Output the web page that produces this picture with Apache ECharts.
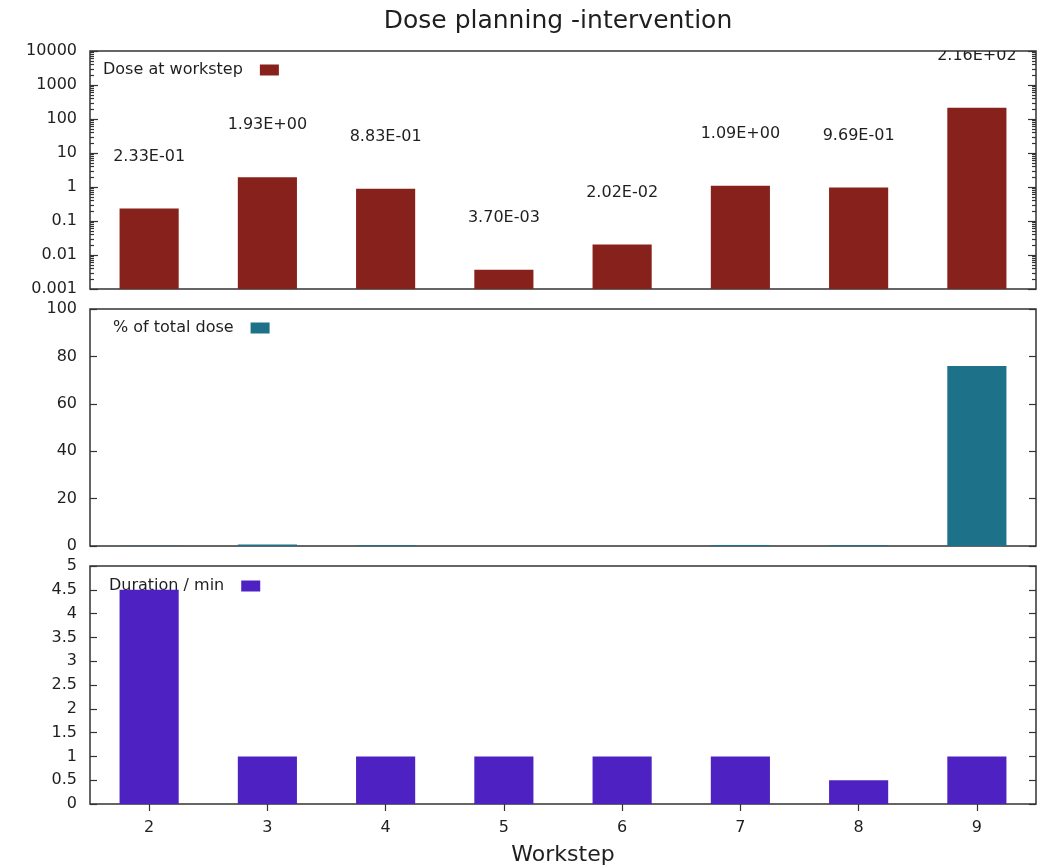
<!DOCTYPE html>
<html><head><meta charset="utf-8">
<script src="https://cdn.jsdelivr.net/npm/echarts@6/dist/echarts.min.js"></script>
<style>html,body{margin:0;padding:0;background:#fff}#c{width:1038px;height:866px}</style>
</head><body><div id="c"></div>
<script>
const categories = ['2', '3', '4', '5', '6', '7', '8', '9'];
const doseValues = [0.233, 1.93, 0.883, 0.0037, 0.0202, 1.09, 0.969, 216];
const percentValues = [0.08, 0.68, 0.31, 0.0013, 0.0071, 0.38, 0.34, 76.0];
const durationValues = [4.5, 1, 1, 1, 1, 1, 0.5, 1];
const seriesNames = ['Dose at workstep', '% of total dose', 'Duration / min'];
const titleText = 'Dose planning -intervention';
const xAxisTitle = 'Workstep';

const FONT = 'DejaVu Sans';
const TXT = '#1f1f1f';
const FRAME = '#333333';
const colors = ['#87211b', '#1d7188', '#4e21c2'];
const LOG_MIN = 0.001, LOG_MAX = 10000;

const minorTicks = [];
for (let e = -3; e <= 3; e++) {
  for (let m = 2; m <= 9; m++) minorTicks.push(Number((m * Math.pow(10, e)).toPrecision(3)));
}

function expText(v) {
  const parts = v.toExponential(2).split('e');
  const n = parseInt(parts[1], 10);
  return parts[0] + 'E' + (n < 0 ? '-' : '+') + String(Math.abs(n)).padStart(2, '0');
}

const grids = [
  { left: 90, right: 2, top: 51, height: 238 },
  { left: 90, right: 2, top: 309, height: 237 },
  { left: 90, right: 2, top: 566, height: 238 }
].map(g => Object.assign(g, {
  show: true, borderColor: FRAME, borderWidth: 1.5, backgroundColor: 'transparent',
  containLabel: false, outerBoundsMode: 'none'
}));

function catAxis(gi, extra) {
  return Object.assign({
    type: 'category', gridIndex: gi, data: categories, boundaryGap: true,
    axisLine: { show: false }, axisTick: { show: false }, axisLabel: { show: false }, splitLine: { show: false }
  }, extra || {});
}

const tickStyle = { color: FRAME, width: 1.2 };

function valAxis(gi, pos, opts, labels, tickLen) {
  return Object.assign({
    gridIndex: gi, position: pos,
    axisLine: { show: false },
    axisTick: { show: true, inside: true, length: tickLen, lineStyle: tickStyle },
    axisLabel: { show: labels, color: TXT, fontFamily: FONT, fontSize: 16, margin: 13,
      formatter: v => String(+Number(v).toPrecision(6)) },
    splitLine: { show: false }
  }, opts);
}

const logOpts = { type: 'log', logBase: 10, min: LOG_MIN, max: LOG_MAX, splitNumber: 7 };
const pctOpts = { type: 'value', min: 0, max: 100, interval: 20 };
const durOpts = { type: 'value', min: 0, max: 5, interval: 0.5 };

function minorLogAxis(pos) {
  return Object.assign({}, logOpts, {
    gridIndex: 0, position: pos,
    axisLine: { show: false },
    axisTick: { show: true, inside: true, length: 4, lineStyle: tickStyle, customValues: minorTicks },
    axisLabel: { show: false }, splitLine: { show: false }
  });
}

const legendBase = {
  orient: 'vertical', align: 'right', icon: 'rect', itemWidth: 19, itemHeight: 11, padding: 0, z: 1,
  textStyle: { color: TXT, fontFamily: FONT, fontSize: 16, padding: [0, 12, 0, 0] },
  selectedMode: false
};

const option = {
  animation: false,
  backgroundColor: '#ffffff',
  title: {
    text: titleText, left: 558, top: 9, padding: 0, textAlign: 'center',
    textStyle: { color: TXT, fontFamily: FONT, fontSize: 25, fontWeight: 'normal' }
  },
  legend: [
    Object.assign({}, legendBase, { data: [seriesNames[0]], left: 103, top: 62 }),
    Object.assign({}, legendBase, { data: [seriesNames[1]], left: 113, top: 320 }),
    Object.assign({}, legendBase, { data: [seriesNames[2]], left: 109, top: 578 })
  ],
  grid: grids,
  xAxis: [
    catAxis(0),
    catAxis(1),
    catAxis(2, {
      position: 'bottom',
      axisTick: { show: true, inside: true, length: 7, alignWithLabel: true, lineStyle: tickStyle },
      axisLabel: { show: true, color: TXT, fontFamily: FONT, fontSize: 16, margin: 16 },
      name: xAxisTitle, nameLocation: 'middle', nameGap: 40,
      nameTextStyle: { color: TXT, fontFamily: FONT, fontSize: 22 }
    }),
    catAxis(2, {
      position: 'top',
      axisTick: { show: true, inside: true, length: 7, alignWithLabel: true, lineStyle: tickStyle }
    })
  ],
  yAxis: [
    valAxis(0, 'left', logOpts, true, 8),
    valAxis(0, 'right', logOpts, false, 8),
    minorLogAxis('left'),
    minorLogAxis('right'),
    valAxis(1, 'left', pctOpts, true, 7),
    valAxis(1, 'right', pctOpts, false, 7),
    valAxis(2, 'left', durOpts, true, 7),
    valAxis(2, 'right', durOpts, false, 7)
  ],
  series: [
    {
      name: seriesNames[0], type: 'custom', xAxisIndex: 0, yAxisIndex: 0,
      data: doseValues.map((v, i) => [i, v]),
      itemStyle: { color: colors[0] },
      encode: { x: 0, y: 1 },
      clip: true,
      renderItem: function (params, api) {
        const idx = api.value(0);
        const v = api.value(1);
        const top = api.coord([idx, v]);
        const base = api.coord([idx, LOG_MIN]);
        const w = api.size([1, 1], [idx, 1])[0] * 0.5;
        return {
          type: 'group',
          children: [
            { type: 'rect', shape: { x: top[0] - w / 2, y: top[1], width: w, height: base[1] - top[1] },
              style: { fill: colors[0] } },
            { type: 'text', x: top[0], y: top[1] - 44,
              style: { text: expText(v), align: 'center', verticalAlign: 'bottom', fill: TXT,
                font: '16px "DejaVu Sans"' } }
          ]
        };
      }
    },
    {
      name: seriesNames[1], type: 'bar', xAxisIndex: 1, yAxisIndex: 4, barWidth: '50%',
      data: percentValues, itemStyle: { color: colors[1] }
    },
    {
      name: seriesNames[2], type: 'bar', xAxisIndex: 2, yAxisIndex: 6, barWidth: '50%',
      data: durationValues, itemStyle: { color: colors[2] }
    }
  ]
};

const chart = echarts.init(document.getElementById('c'), null, { renderer: 'canvas' });
chart.setOption(option);
</script>
</body></html>
